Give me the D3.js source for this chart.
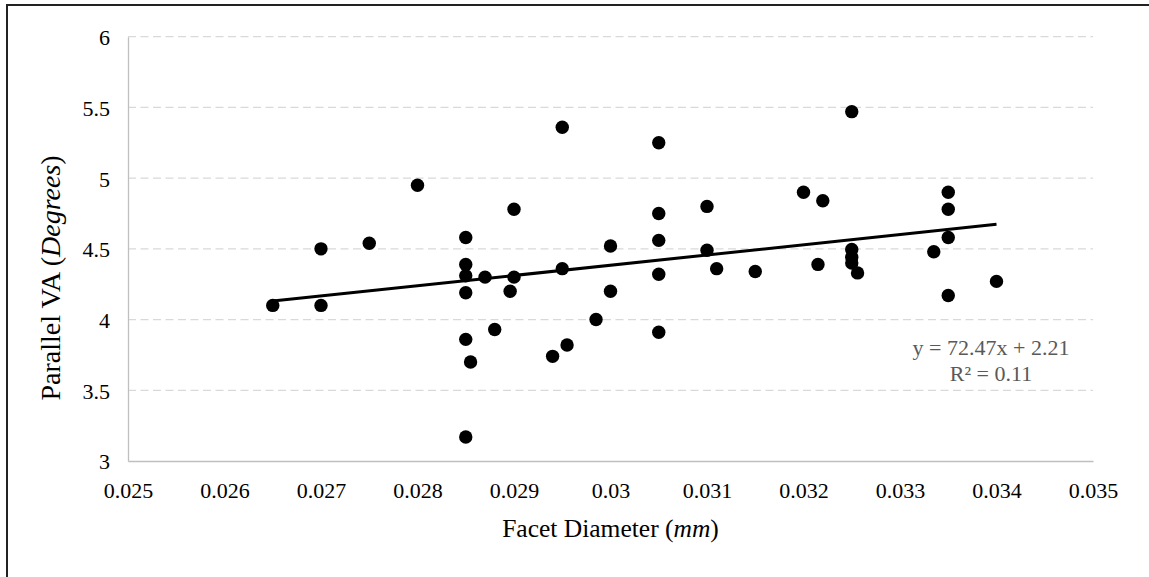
<!DOCTYPE html>
<html>
<head>
<meta charset="utf-8">
<script src="https://cdn.jsdelivr.net/npm/d3@7"></script>
<style>
  html, body { margin: 0; padding: 0; background: #fff; }
  svg { display: block; font-family: "Liberation Serif", "Times New Roman", serif; }
  svg text { font-family: "Liberation Serif", "Times New Roman", serif; }
</style>
</head>
<body>
<div id="chart"></div>
<script>
'use strict';

// facet diameter (mm)
var facetDiameter = [
	0.0265, 0.0270, 0.0270, 0.0275, 0.0280,
	0.0285, 0.0285, 0.0285, 0.0285, 0.0285, 0.02855, 0.0285,
	0.0287, 0.0288, 0.0290, 0.02896, 0.0290,
	0.0295, 0.0295, 0.0294, 0.02955, 0.02985,
	0.0300, 0.0300,
	0.0305, 0.0305, 0.0305, 0.0305, 0.0305,
	0.0310, 0.0310, 0.0311, 0.0315,
	0.0320, 0.0322, 0.03215,
	0.0325, 0.0325, 0.0325, 0.0325, 0.03256,
	0.03335, 0.0335, 0.0335, 0.0335, 0.0335, 0.0340
];

// parallel VA (degrees)
var parallelVA = [
	4.10, 4.10, 4.50, 4.54, 4.95,
	4.58, 4.39, 4.31, 4.19, 3.86, 3.70, 3.17,
	4.30, 3.93, 4.30, 4.20, 4.78,
	5.36, 4.36, 3.74, 3.82, 4.00,
	4.52, 4.20,
	5.25, 4.75, 4.56, 4.32, 3.91,
	4.80, 4.49, 4.36, 4.34,
	4.90, 4.84, 4.39,
	5.47, 4.495, 4.44, 4.40, 4.33,
	4.48, 4.90, 4.78, 4.58, 4.17, 4.27
];

var xTicks = [0.025, 0.026, 0.027, 0.028, 0.029, 0.03, 0.031, 0.032, 0.033, 0.034, 0.035];
var yTicks = [3, 3.5, 4, 4.5, 5, 5.5, 6];

// trendline as printed on the chart
var slope = 72.47;
var intercept = 2.21;
var rSquared = 0.11;

var W = 1149, H = 577;
var margin = {top: 36.7, right: 56, bottom: 116, left: 128};
var width = W - margin.left - margin.right;
var height = H - margin.top - margin.bottom;
var serif = '"Liberation Serif", "Times New Roman", serif';

var data = facetDiameter.map(function(d, i){ return {x: d, y: parallelVA[i]}; });

var svg = d3.select('#chart').append('svg')
	.attr('width', W)
	.attr('height', H);

// outer frame
svg.append('rect')
	.attr('x', 7).attr('y', 5)
	.attr('width', W + 10).attr('height', H + 10)
	.attr('fill', 'none')
	.attr('stroke', '#222')
	.attr('stroke-width', 2);

var g = svg.append('g')
	.attr('transform', 'translate(' + margin.left + ',' + margin.top + ')');

var xScale = d3.scaleLinear().domain([0.025, 0.035]).range([0, width]);
var yScale = d3.scaleLinear().domain([3, 6]).range([height, 0]);

// gridlines
g.append('g')
	.selectAll('line')
	.data(yTicks.filter(function(d){ return d > 3; }))
	.enter().append('line')
	.attr('x1', 0).attr('x2', width)
	.attr('y1', function(d){ return yScale(d); })
	.attr('y2', function(d){ return yScale(d); })
	.attr('stroke', '#d9d9d9')
	.attr('stroke-width', 1.3)
	.attr('stroke-dasharray', '8,4.5');

var xAxis = d3.axisBottom(xScale).tickValues(xTicks).tickSize(0).tickPadding(21)
	.tickFormat(function(d){ return String(+d.toFixed(3)); });
var yAxis = d3.axisLeft(yScale).tickValues(yTicks).tickSize(0).tickPadding(18)
	.tickFormat(function(d){ return String(d); });

var gx = g.append('g')
	.attr('transform', 'translate(0,' + height + ')')
	.call(xAxis);
var gy = g.append('g').call(yAxis);

[gx, gy].forEach(function(ax){
	ax.attr('font-family', serif).attr('font-size', 22);
	ax.select('.domain').attr('stroke', '#bfbfbf').attr('stroke-width', 1.3);
	ax.selectAll('text').attr('fill', '#000');
});
gy.selectAll('text').attr('dy', '0.36em');

// trendline
var xMin = d3.min(facetDiameter), xMax = d3.max(facetDiameter);
var line = d3.line()
	.x(function(d){ return xScale(d); })
	.y(function(d){ return yScale(slope * d + intercept); });

g.append('path')
	.attr('d', line([xMin, xMax]))
	.attr('fill', 'none')
	.attr('stroke', '#000')
	.attr('stroke-width', 3);

// points
g.append('g')
	.selectAll('circle')
	.data(data)
	.enter().append('circle')
	.attr('cx', function(d){ return xScale(d.x); })
	.attr('cy', function(d){ return yScale(d.y); })
	.attr('r', 6.7)
	.attr('fill', '#000');

// equation label
var eq = g.append('text')
	.attr('text-anchor', 'middle')
	.attr('fill', '#595959')
	.style('font-size', '22px');
eq.append('tspan').attr('x', 863).attr('y', 318)
	.text('y = ' + slope.toFixed(2) + 'x + ' + intercept.toFixed(2));
eq.append('tspan').attr('x', 863).attr('y', 344)
	.text('R\u00B2 = ' + rSquared.toFixed(2));

// axis titles
var xt = svg.append('text')
	.attr('x', margin.left + width / 2)
	.attr('y', 537)
	.attr('text-anchor', 'middle')
	.style('font-size', '25.5px');
xt.append('tspan').text('Facet Diameter (');
xt.append('tspan').style('font-style', 'italic').text('mm');
xt.append('tspan').text(')');

var yt = svg.append('text')
	.attr('transform', 'translate(60,278) rotate(-90)')
	.attr('text-anchor', 'middle')
	.style('font-size', '28px');
yt.append('tspan').text('Parallel VA (');
yt.append('tspan').style('font-style', 'italic').text('Degrees');
yt.append('tspan').text(')');
</script>
</body>
</html>
